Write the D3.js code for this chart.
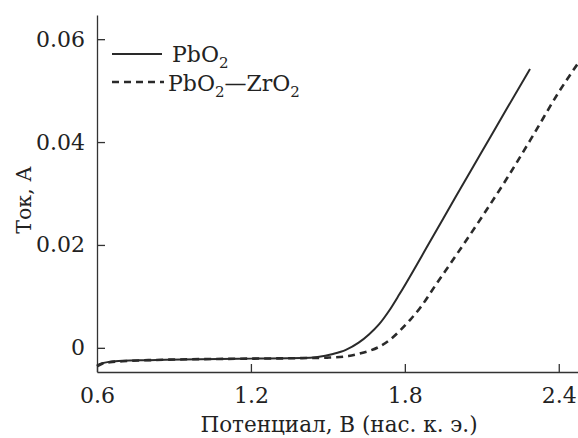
<!DOCTYPE html>
<html lang="ru">
<head>
<meta charset="UTF-8">
<title>Ток от потенциала</title>
<script src="https://d3js.org/d3.v7.min.js"></script>
<style>
  body { margin: 0; background: #fff; }
  .axis path, .axis line { stroke: #333; stroke-width: 1.3px; }
  .curve { fill: none; stroke: #2a2a2a; }
</style>
</head>
<body>
<svg id="chart" width="578" height="438"></svg>
<script>
// Potential, V (sat. calomel electrode) and current, A
const potPbO2 = [0.60, 0.62, 0.65, 0.70, 0.80, 1.00, 1.20, 1.40, 1.46, 1.52, 1.57, 1.62, 1.66, 1.70, 1.74, 1.78, 1.90, 2.00, 2.10, 2.20, 2.288];
const curPbO2 = [-0.0034, -0.0030, -0.0027, -0.0025, -0.0024, -0.0022, -0.0021, -0.0020, -0.0018, -0.0012, -0.0004, 0.0010, 0.0026, 0.0046, 0.0073, 0.0105, 0.0208, 0.0295, 0.0381, 0.0467, 0.0542];

const potPbZr = [0.60, 0.62, 0.65, 0.70, 0.80, 1.00, 1.20, 1.40, 1.50, 1.58, 1.64, 1.70, 1.74, 1.78, 1.82, 1.86, 1.92, 2.00, 2.10, 2.20, 2.30, 2.40, 2.475];
const curPbZr = [-0.0036, -0.0031, -0.0028, -0.0026, -0.0024, -0.0022, -0.0021, -0.0020, -0.0019, -0.0016, -0.0009, 0.0002, 0.0015, 0.0033, 0.0054, 0.0078, 0.0122, 0.0180, 0.0254, 0.0331, 0.0413, 0.0497, 0.0553];

const xTicks = [0.6, 1.2, 1.8, 2.4];
const yTicks = [0, 0.02, 0.04, 0.06];
const seriesNames = ["PbO", "PbO", "ZrO"];

// the only serif face that actually resolves here
const serif = "DejaVu Serif";

const svg = d3.select("#chart")
    .attr("font-family", serif)
    .attr("fill", "#222");

const x = d3.scaleLinear().domain([0.6, 2.475]).range([97, 578]);
const y = d3.scaleLinear().domain([-0.0047, 0.0647]).range([372, 15]);

// axes with ticks pointing inward
const gx = svg.append("g")
    .attr("class", "axis")
    .attr("transform", "translate(0,372)")
    .call(d3.axisBottom(x).tickValues(xTicks).tickSizeInner(-8).tickSizeOuter(0).tickPadding(15)
        .tickFormat(d3.format(".1f")));
gx.attr("font-family", serif).attr("font-size", 22);
gx.selectAll("text").attr("fill", "#222");

const gy = svg.append("g")
    .attr("class", "axis")
    .attr("transform", "translate(97,0)")
    .call(d3.axisLeft(y).tickValues(yTicks).tickSizeInner(-8).tickSizeOuter(0).tickPadding(12)
        .tickFormat(d => d === 0 ? "0" : d3.format(".2f")(d)));
gy.attr("font-family", serif).attr("font-size", 22);
gy.selectAll("text").attr("fill", "#222");

// curves
const line = d3.line()
    .x(d => x(d[0]))
    .y(d => y(d[1]))
    .curve(d3.curveMonotoneX);

svg.append("path")
    .attr("class", "curve")
    .attr("stroke-width", 2)
    .attr("d", line(d3.zip(potPbO2, curPbO2)));

svg.append("path")
    .attr("class", "curve")
    .attr("stroke-width", 2.6)
    .attr("stroke-dasharray", "7,5")
    .attr("d", line(d3.zip(potPbZr, curPbZr)));

// legend
const legend = svg.append("g").attr("transform", "translate(112,0)");
legend.append("line").attr("class", "curve").attr("stroke-width", 2)
    .attr("x1", 0).attr("x2", 50).attr("y1", 54).attr("y2", 54);
legend.append("line").attr("class", "curve").attr("stroke-width", 2.6)
    .attr("stroke-dasharray", "7,5")
    .attr("x1", 0).attr("x2", 52).attr("y1", 82).attr("y2", 82);

const t1 = legend.append("text").attr("x", 60).attr("y", 62).attr("font-size", 22);
t1.append("tspan").text(seriesNames[0]);
t1.append("tspan").attr("dy", 6).attr("font-size", 15).text("2");

const t2 = legend.append("text").attr("x", 56).attr("y", 91).attr("font-size", 22);
t2.append("tspan").text(seriesNames[1]);
t2.append("tspan").attr("dy", 6).attr("font-size", 15).text("2");
t2.append("tspan").attr("dy", -6).text("\u2014" + seriesNames[2]);
t2.append("tspan").attr("dy", 6).attr("font-size", 15).text("2");

// axis titles
svg.append("text")
    .attr("x", 339).attr("y", 432)
    .attr("text-anchor", "middle")
    .attr("font-size", 21.5)
    .text("Потенциал, В (нас. к. э.)");

svg.append("text")
    .attr("transform", "translate(31,200) rotate(-90)")
    .attr("text-anchor", "middle")
    .attr("font-size", 20.5)
    .text("Ток, А");
</script>
</body>
</html>
